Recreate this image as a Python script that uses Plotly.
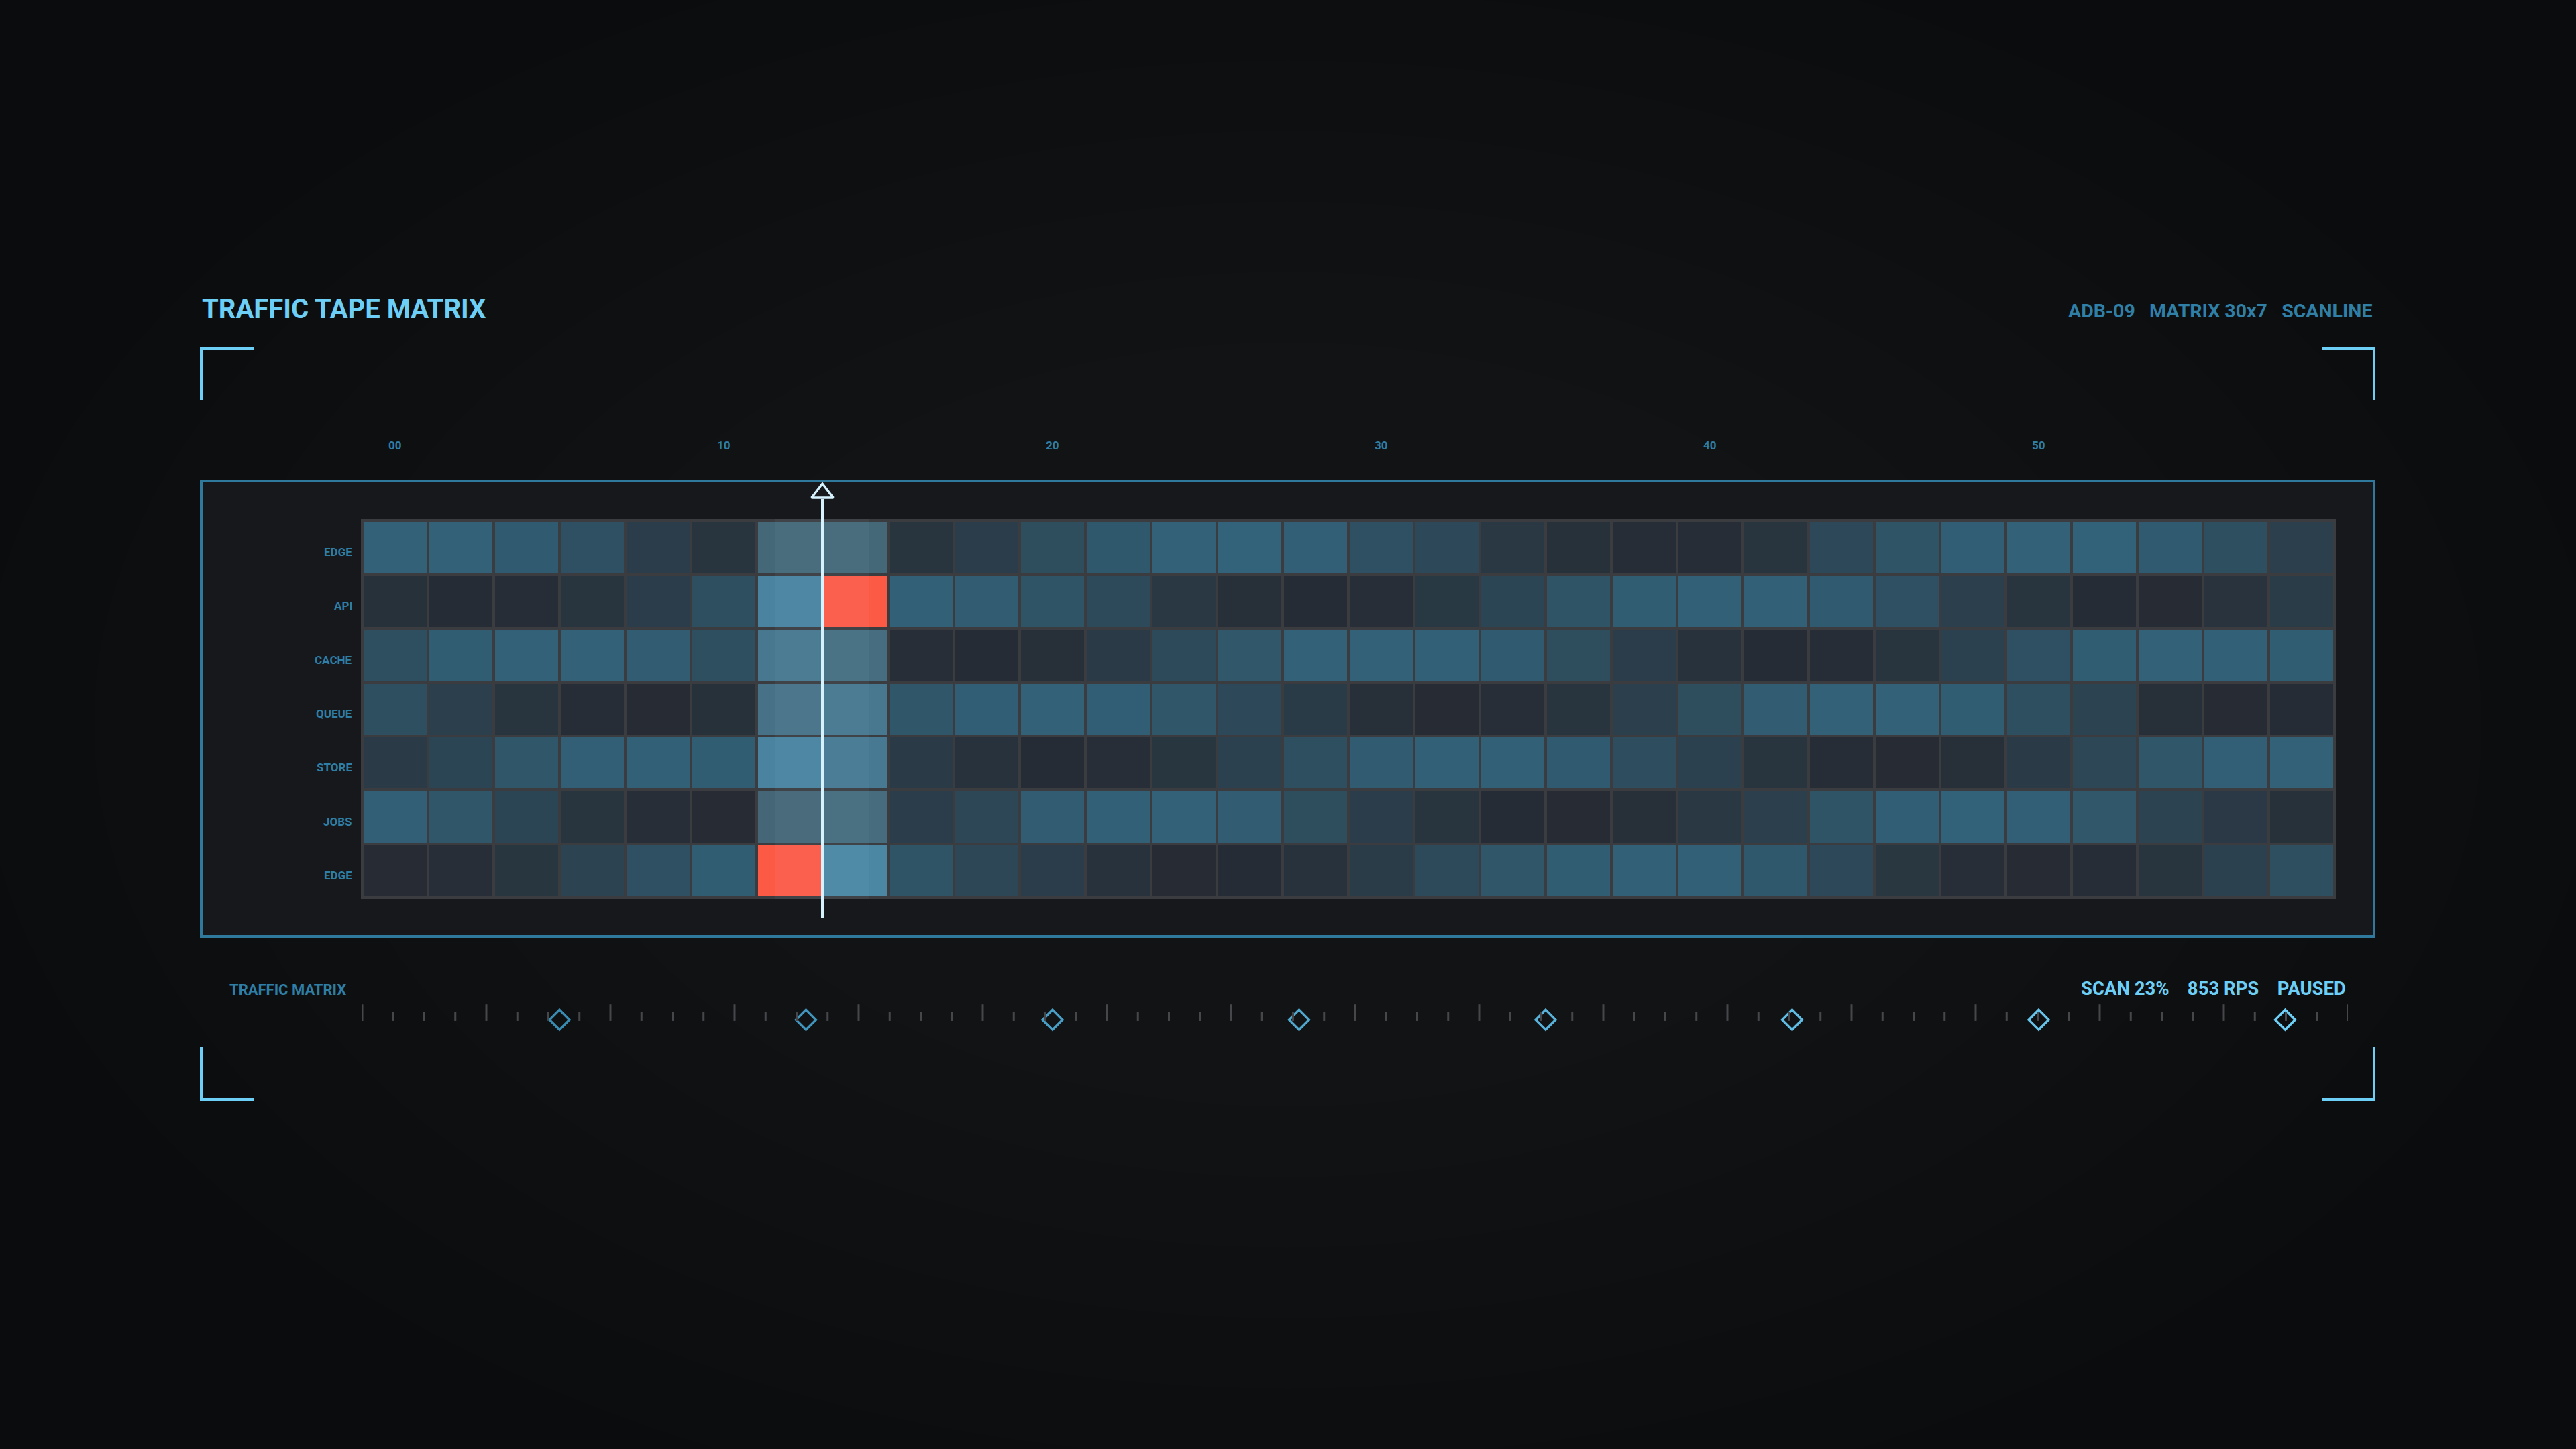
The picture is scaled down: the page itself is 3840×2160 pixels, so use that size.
import plotly.graph_objects as go

# ---------------- data ----------------
row_labels = ["EDGE", "API", "CACHE", "QUEUE", "STORE", "JOBS", "EDGE"]
bucket_x = list(range(0, 60, 2))            # 30 buckets, 2 units each
tick_vals = [0, 10, 20, 30, 40, 50]
tick_text = ["00", "10", "20", "30", "40", "50"]

edge_a = [0.90, 0.90, 0.75, 0.60, 0.35, 0.20, 0.20, 0.20, 0.20, 0.35,
          0.55, 0.72, 0.90, 0.95, 0.85, 0.60, 0.50, 0.25, 0.12, 0.05,
          0.05, 0.20, 0.50, 0.65, 0.82, 0.90, 0.92, 0.75, 0.58, 0.38]
api = [0.12, 0.03, 0.05, 0.18, 0.35, 0.58, 0.90, 1.00, 0.88, 0.78,
       0.65, 0.52, 0.25, 0.10, 0.03, 0.08, 0.27, 0.45, 0.65, 0.80,
       0.88, 0.87, 0.75, 0.60, 0.38, 0.18, 0.03, 0.02, 0.17, 0.33]
cache = [0.58, 0.80, 0.90, 0.90, 0.78, 0.58, 0.60, 0.35, 0.07, 0.03,
         0.10, 0.30, 0.52, 0.70, 0.90, 0.90, 0.88, 0.75, 0.55, 0.35,
         0.15, 0.03, 0.06, 0.20, 0.40, 0.60, 0.80, 0.90, 0.88, 0.80]
queue = [0.58, 0.38, 0.20, 0.06, 0.02, 0.12, 0.45, 0.60, 0.68, 0.82,
         0.90, 0.82, 0.68, 0.50, 0.32, 0.10, 0.02, 0.07, 0.20, 0.37,
         0.55, 0.78, 0.90, 0.90, 0.80, 0.58, 0.42, 0.10, 0.02, 0.03]
store = [0.30, 0.45, 0.68, 0.85, 0.88, 0.80, 0.90, 0.65, 0.30, 0.15,
         0.04, 0.07, 0.22, 0.40, 0.58, 0.77, 0.88, 0.87, 0.75, 0.57,
         0.40, 0.20, 0.06, 0.02, 0.10, 0.30, 0.48, 0.68, 0.85, 0.90]
jobs = [0.85, 0.68, 0.45, 0.20, 0.07, 0.02, 0.15, 0.30, 0.35, 0.47,
        0.78, 0.88, 0.90, 0.78, 0.55, 0.35, 0.18, 0.04, 0.02, 0.10,
        0.25, 0.38, 0.65, 0.82, 0.92, 0.86, 0.70, 0.42, 0.28, 0.12]
edge_b = [0.02, 0.08, 0.22, 0.42, 0.60, 0.80, 1.00, 0.95, 0.65, 0.47,
          0.35, 0.15, 0.02, 0.03, 0.15, 0.33, 0.52, 0.68, 0.80, 0.87,
          0.87, 0.72, 0.50, 0.23, 0.07, 0.02, 0.05, 0.20, 0.40, 0.58]

anomalies = [(1, 7), (6, 6)]        # (row, bucket)
active_buckets = [6, 7]             # scan window
scan_pos = 13                       # data units
rps = 853
state = "PAUSED"
event_pos = [5, 12.5, 20, 27.5, 35, 42.5, 50, 57.5]
ruler_n = 64                        # ruler intervals
ruler_major_every = 4

# ---------------- build ----------------
W, H = 3840, 2160
Z = [edge_a, api, cache, queue, store, jobs, edge_b]
nrows, ncols = len(Z), len(bucket_x)


def px(x):
    return x / W


def py(y):
    return 1 - y / H


BLUE_L = "#6ecff6"
BLUE_D = "#2e7ea5"
FONT = "Roboto"

base_scale = [[0.0, "#262a33"], [0.2, "#28353f"], [0.35, "#2b3d4a"], [0.5, "#2d4959"],
              [0.65, "#2f5466"], [0.8, "#315d73"], [1.0, "#33657d"]]
active_scale = [[0.0, "#42606f"], [0.2, "#456878"], [0.35, "#466e80"], [0.5, "#487389"],
                [0.65, "#477a92"], [0.9, "#4a83a0"], [1.0, "#4b88a6"]]

z_active = [[(v if c in active_buckets else None) for c, v in enumerate(r)] for r in Z]
z_anom = [[None] * ncols for _ in range(nrows)]
for r, c in anomalies:
    z_anom[r][c] = 1

fig = go.Figure()
common = dict(x=bucket_x, y=list(range(nrows)), xgap=4, ygap=4, showscale=False,
              hoverinfo="skip", zmin=0, zmax=1)
fig.add_trace(go.Heatmap(z=Z, colorscale=base_scale, **common))
fig.add_trace(go.Heatmap(z=z_active, colorscale=active_scale, **common))
fig.add_trace(go.Heatmap(z=z_anom, colorscale=[[0, "#fd5a45"], [1, "#fd5a45"]], **common))

grid_top, grid_bot = 776, 1338
row_px = (grid_bot - grid_top) / nrows

# scan marker triangle (own small axis strip above the grid)
fig.add_trace(go.Scatter(x=[scan_pos], y=[0.5], mode="markers", xaxis="x", yaxis="y3",
                         marker=dict(symbol="triangle-up-open", size=28, color="#d6f2ff",
                                     line=dict(width=3.5, color="#d6f2ff")),
                         cliponaxis=False, hoverinfo="skip"))

# ruler ticks
minor_x, minor_y, major_x, major_y = [], [], [], []
for i in range(ruler_n + 1):
    if i % ruler_major_every == 0:
        major_x += [i, i, None]
        major_y += [0.29, 0.84, None]
    else:
        minor_x += [i, i, None]
        minor_y += [0.29, 0.6, None]
fig.add_trace(go.Scatter(x=minor_x, y=minor_y, mode="lines", xaxis="x2", yaxis="y2",
                         line=dict(color="#46474b", width=3), hoverinfo="skip", cliponaxis=False))
fig.add_trace(go.Scatter(x=major_x, y=major_y, mode="lines", xaxis="x2", yaxis="y2",
                         line=dict(color="#46474b", width=3), hoverinfo="skip", cliponaxis=False))


def lerp_color(a, b, t):
    ca = [int(a[i:i + 2], 16) for i in (1, 3, 5)]
    cb = [int(b[i:i + 2], 16) for i in (1, 3, 5)]
    return "rgb(%d,%d,%d)" % tuple(round(ca[k] + (cb[k] - ca[k]) * t) for k in range(3))


ev_colors = [lerp_color("#3a8bb2", "#6ecff6", i / (len(event_pos) - 1)) for i in range(len(event_pos))]
fig.add_trace(go.Scatter(x=event_pos, y=[0.33] * len(event_pos), mode="markers", xaxis="x", yaxis="y2",
                         marker=dict(symbol="diamond-open", size=23, color=ev_colors,
                                     line=dict(width=3.5, color=ev_colors)),
                         cliponaxis=False, hoverinfo="skip"))

# ---------------- shapes ----------------
shapes = []
# vignette
for k in range(7):
    rx = 1950 - k * 170
    ry = 1200 - k * 105
    shapes.append(dict(type="circle", xref="paper", yref="paper", layer="below",
                       x0=px(1920 - rx), x1=px(1920 + rx), y0=py(1080 + ry), y1=py(1080 - ry),
                       fillcolor="rgba(255,255,255,0.0065)", line=dict(width=0)))
# panel
shapes.append(dict(type="rect", xref="paper", yref="paper", layer="below",
                   x0=px(300), x1=px(3539), y0=py(1396), y1=py(717),
                   fillcolor="#17181b", line=dict(color="#2f7a9c", width=4)))
# grid background
shapes.append(dict(type="rect", xref="x domain", yref="y domain", layer="below",
                   x0=0, x1=1, y0=0, y1=1, fillcolor="#3b3c40", line=dict(width=0)))
# glow band around scanline
shapes.append(dict(type="rect", xref="x", yref="y domain", layer="above",
                   x0=scan_pos - 1.43, x1=scan_pos + 1.43, y0=0, y1=1,
                   fillcolor="rgba(190,235,255,0.045)", line=dict(width=0)))
# scanline
shapes.append(dict(type="line", xref="x", yref="paper", layer="above",
                   x0=scan_pos, x1=scan_pos, y0=py(1368), y1=py(744),
                   line=dict(color="#d6f2ff", width=4)))
# corner brackets
br = 78
for (cx, cy, dx, dy) in [(300, 519, 1, 1), (3539, 519, -1, 1), (300, 1639, 1, -1), (3539, 1639, -1, -1)]:
    path = "M %f,%f L %f,%f L %f,%f" % (px(cx), py(cy + dy * br), px(cx), py(cy), px(cx + dx * br), py(cy))
    shapes.append(dict(type="path", xref="paper", yref="paper", path=path,
                       line=dict(color=BLUE_L, width=4)))

# ---------------- annotations ----------------
ann = []
ann.append(dict(text="TRAFFIC TAPE MATRIX", x=px(299), y=py(461), xref="paper", yref="paper",
                xanchor="left", yanchor="middle", showarrow=False,
                font=dict(family=FONT, size=40, color=BLUE_L, weight="bold")))
sp = "\u00a0\u00a0\u00a0"
ann.append(dict(text="ADB-09" + sp + "MATRIX %dx%d" % (ncols, nrows) + sp + "SCANLINE",
                x=px(3539), y=py(464), xref="paper", yref="paper",
                xanchor="right", yanchor="middle", showarrow=False,
                font=dict(family=FONT, size=28.5, color="#2f7fa6", weight="bold")))
ann.append(dict(text="TRAFFIC MATRIX", x=px(340), y=py(1475), xref="paper", yref="paper",
                xanchor="left", yanchor="middle", showarrow=False,
                font=dict(family=FONT, size=22, color=BLUE_D, weight="bold")))
scan_pct = round((scan_pos + 1) / 60 * 100)
sp4 = "\u00a0\u00a0\u00a0\u00a0"
ann.append(dict(text="SCAN %d%%" % scan_pct + sp4 + "%d RPS" % rps + sp4 + state,
                x=px(3499), y=py(1473), xref="paper", yref="paper",
                xanchor="right", yanchor="middle", showarrow=False,
                font=dict(family=FONT, size=27.5, color=BLUE_L, weight="bold")))
for v, t in zip(tick_vals, tick_text):
    ann.append(dict(text=t, x=v, y=py(664), xref="x", yref="paper", xanchor="center",
                    yanchor="middle", showarrow=False,
                    font=dict(family=FONT, size=17, color=BLUE_D, weight="bold")))
for i, lab in enumerate(row_labels):
    ann.append(dict(text=lab, x=px(527), y=i, xref="paper", yref="y", xanchor="right",
                    yanchor="middle", yshift=-7, showarrow=False,
                    font=dict(family=FONT, size=17, color=BLUE_D, weight="bold")))

pad_x = 2 / 49
pad_y = 2 / row_px
fig.update_layout(
    width=W, height=H, margin=dict(l=0, r=0, t=0, b=0),
    paper_bgcolor="#0b0c0e", plot_bgcolor="rgba(0,0,0,0)",
    showlegend=False, hovermode=False,
    shapes=shapes, annotations=ann,
    xaxis=dict(domain=[px(538), px(3482)], range=[-1 - pad_x, 59 + pad_x], showgrid=False,
               zeroline=False, showticklabels=False, ticks="", showline=False, fixedrange=True),
    yaxis=dict(domain=[py(grid_bot + 2), py(grid_top - 2)], range=[nrows - 0.5 + pad_y, -0.5 - pad_y],
               showticklabels=False, ticks="", showgrid=False, zeroline=False, showline=False,
               fixedrange=True),
    xaxis2=dict(domain=[px(540), px(3500)], range=[0, ruler_n], anchor="y2", showgrid=False,
                zeroline=False, showticklabels=False, ticks="", showline=False),
    yaxis2=dict(domain=[py(1535), py(1490)], range=[0, 1], anchor="x2", showgrid=False,
                zeroline=False, showticklabels=False, ticks="", showline=False),
    yaxis3=dict(domain=[py(750), py(720)], range=[0, 1], anchor="x", showgrid=False,
                zeroline=False, showticklabels=False, ticks="", showline=False),
)

fig.write_html("out.html", config={"displayModeBar": False},
               post_script="document.body.style.margin='0';document.body.style.background='#0b0c0e';")
